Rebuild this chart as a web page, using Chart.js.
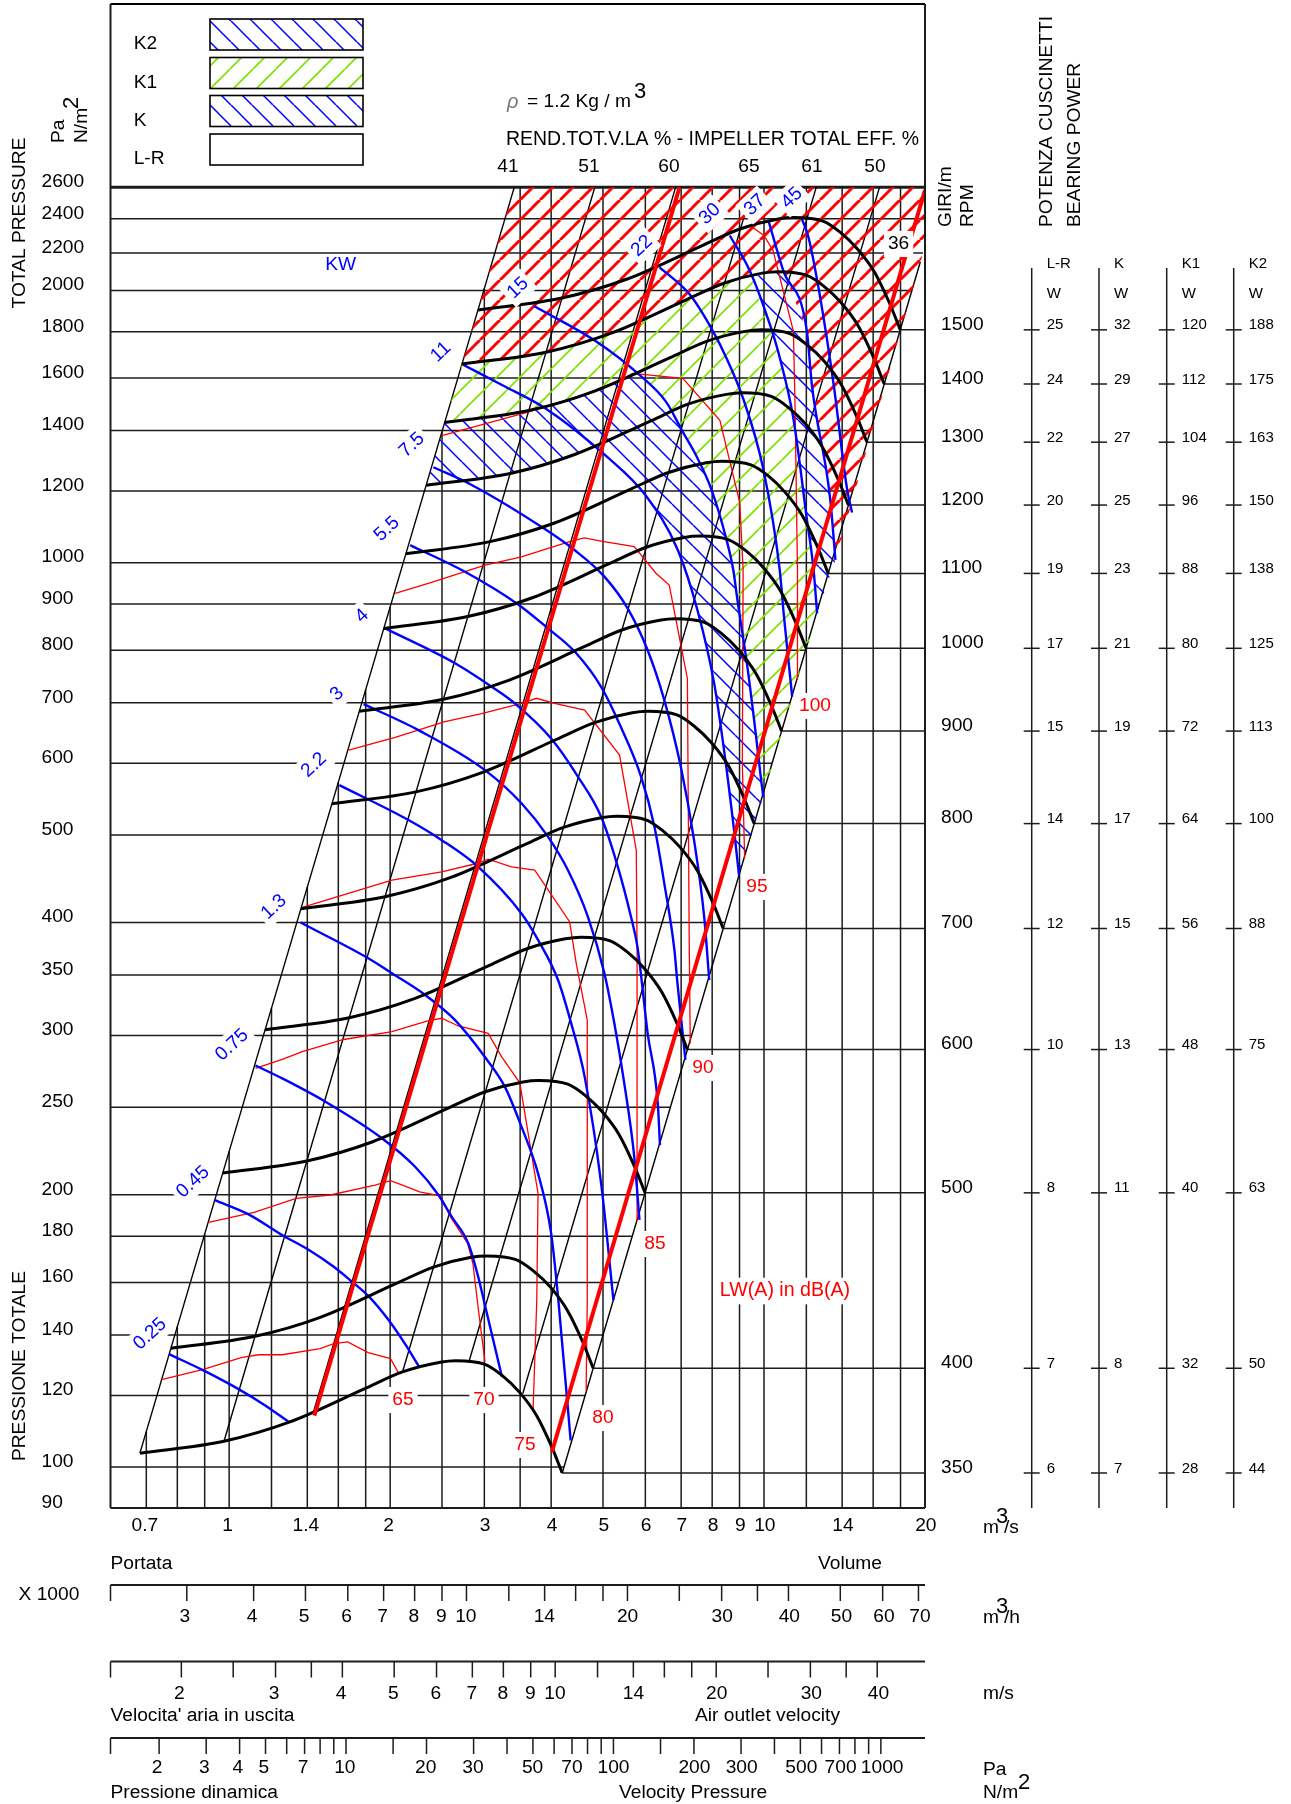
<!DOCTYPE html>
<html>
<head>
<meta charset="utf-8">
<title>Fan chart</title>
<script src="https://cdn.jsdelivr.net/npm/chart.js@4"></script>
<style>
    html, body { margin: 0; padding: 0; background: #fff; }
    canvas { display: block; }
</style>
</head>
<body>
<canvas id="fanChart" width="1291" height="1804"></canvas>
<script>
// fan speed curves, one pair per rpm (flow m3/s, total pressure Pa)
const rpm350x = [0.681, 0.978, 1.295, 1.793, 2.109, 2.481, 2.652, 3.008, 3.237, 3.486, 3.754, 4.012, 4.195];
const rpm350y = [103.6, 106.8, 112.1, 122.1, 127.4, 130.6, 131.1, 129.9, 126.3, 121.1, 114.1, 105.2, 98.5];
const rpm400x = [0.778, 1.118, 1.48, 2.049, 2.41, 2.835, 3.031, 3.438, 3.7, 3.984, 4.29, 4.585, 4.794];
const rpm400y = [135.3, 139.5, 146.4, 159.5, 166.4, 170.6, 171.2, 169.6, 164.9, 158.2, 149, 137.4, 128.6];
const rpm500x = [0.973, 1.397, 1.85, 2.561, 3.013, 3.544, 3.789, 4.297, 4.624, 4.98, 5.363, 5.731, 5.993];
const rpm500y = [211.4, 218, 228.8, 249.2, 260, 266.6, 267.6, 265.1, 257.8, 247.2, 232.9, 214.7, 201];
const rpm600x = [1.167, 1.677, 2.22, 3.074, 3.615, 4.253, 4.546, 5.157, 5.549, 5.976, 6.435, 6.878, 7.191];
const rpm600y = [304.5, 313.9, 329.5, 358.9, 374.4, 383.8, 385.3, 381.8, 371.2, 355.9, 335.3, 309.2, 289.5];
const rpm700x = [1.362, 1.956, 2.59, 3.586, 4.218, 4.962, 5.304, 6.016, 6.474, 6.972, 7.508, 8.024, 8.39];
const rpm700y = [414.4, 427.2, 448.4, 488.4, 509.6, 522.4, 524.4, 519.6, 505.2, 484.4, 456.4, 420.8, 394];
const rpm800x = [1.557, 2.235, 2.96, 4.098, 4.821, 5.671, 6.062, 6.875, 7.399, 7.968, 8.581, 9.17, 9.589];
const rpm800y = [541.2, 557.9, 585.6, 637.9, 665.5, 682.3, 684.9, 678.6, 659.8, 632.6, 596.1, 549.6, 514.6];
const rpm900x = [1.751, 2.515, 3.33, 4.611, 5.423, 6.38, 6.819, 7.735, 8.324, 8.964, 9.653, 10.316, 10.787];
const rpm900y = [685, 706.2, 741.2, 807.3, 842.4, 863.5, 866.8, 858.9, 835.1, 800.7, 754.4, 695.6, 651.3];
const rpm1000x = [1.946, 2.794, 3.7, 5.123, 6.026, 7.088, 7.577, 8.594, 9.249, 9.96, 10.726, 11.463, 11.986];
const rpm1000y = [845.7, 871.8, 915.1, 996.7, 1040, 1066, 1070, 1060, 1031, 988.5, 931.4, 858.8, 804.1];
const rpm1100x = [2.14, 3.074, 4.07, 5.635, 6.628, 7.797, 8.335, 9.454, 10.174, 10.956, 11.798, 12.609, 13.184];
const rpm1100y = [1023, 1055, 1107, 1206, 1258, 1290, 1295, 1283, 1248, 1196, 1127, 1039, 973];
const rpm1200x = [2.335, 3.353, 4.44, 6.147, 7.231, 8.506, 9.093, 10.313, 11.098, 11.952, 12.871, 13.755, 14.383];
const rpm1200y = [1218, 1255, 1318, 1435, 1498, 1535, 1541, 1527, 1485, 1424, 1341, 1237, 1158];
const rpm1300x = [2.529, 3.633, 4.81, 6.66, 7.833, 9.215, 9.85, 11.173, 12.023, 12.948, 13.944, 14.902, 15.581];
const rpm1300y = [1429, 1473, 1547, 1684, 1758, 1802, 1809, 1792, 1742, 1671, 1574, 1451, 1359];
const rpm1400x = [2.724, 3.912, 5.18, 7.172, 8.436, 9.924, 10.608, 12.032, 12.948, 13.944, 15.016, 16.048, 16.78];
const rpm1400y = [1658, 1709, 1794, 1954, 2038, 2090, 2098, 2078, 2021, 1938, 1826, 1683, 1576];
const rpm1500x = [2.919, 4.191, 5.55, 7.684, 9.039, 10.633, 11.366, 12.891, 13.873, 14.94, 16.088, 17.194, 17.979];
const rpm1500y = [1903, 1962, 2059, 2243, 2340, 2399, 2408, 2386, 2320, 2224, 2096, 1932, 1809];

// motor power curves (kW)
const kw025x = [0.772, 0.895, 1.045, 1.168, 1.295];
const kw025y = [133.3, 127.9, 121.8, 117, 112.1];
const kw045x = [0.94, 1.085, 1.267, 1.405, 1.569, 1.69, 1.82, 1.988, 2.141, 2.27];
const kw045y = [197.3, 190.4, 180, 174, 166.5, 160.6, 154.6, 145.3, 136.3, 128.8];
const kw075x = [1.12, 1.257, 1.514, 1.93, 2.227, 2.462, 2.606, 2.8, 2.922, 3.008, 3.237];
const kw075y = [278, 269, 253.5, 231, 214.8, 199.9, 189.2, 176.7, 162.3, 151, 125.8];
const kw13x = [1.36, 1.823, 2.015, 2.325, 2.645, 3.008, 3.276, 3.52, 3.78, 4.0, 4.12, 4.35];
const kw13y = [400, 365, 351.6, 332.7, 312, 284, 263.4, 237.9, 211.2, 181.3, 154.3, 107];
const kw22x = [1.607, 2.164, 2.497, 2.922, 3.52, 3.78, 4.12, 4.36, 4.62, 4.96, 5.23];
const kw22y = [567.6, 519.3, 493.4, 461, 409.4, 382.7, 345.6, 309.5, 270.2, 205.9, 152.9];
const kw3x = [1.784, 2.259, 3.008, 3.52, 3.945, 4.3, 4.686, 5.03, 5.25, 5.48, 5.72, 5.85];
const kw3y = [697.6, 652.9, 589.7, 541.9, 497.8, 457, 405.9, 351.6, 309.5, 265.6, 220.4, 187.6];
const kw4x = [1.958, 2.645, 3.095, 3.42, 4.0, 4.488, 4.96, 5.33, 5.64, 5.8, 6.06, 6.33, 6.39];
const kw4y = [846, 774, 729.1, 698.9, 639, 580, 523.6, 461, 405.9, 376, 301.7, 252.5, 227];
const kw55x = [2.18, 2.76, 3.47, 3.945, 4.43, 4.96, 5.4, 5.89, 6.24, 6.51, 6.8, 6.89, 7.13];
const kw55y = [1045.7, 977, 899, 846, 797, 729, 658, 580, 510.5, 441.9, 373, 342.7, 282];
const kw75x = [2.409, 2.824, 3.905, 4.43, 5.03, 5.56, 6.06, 6.51, 6.99, 7.4, 7.73, 7.9];
const kw75y = [1275, 1221, 1088, 1032, 965, 890, 800, 704.7, 594.7, 493.4, 405.9, 345.6];
const kw11x = [2.744, 3.237, 3.905, 5.06, 6.02, 6.9, 7.51, 8.07, 8.42, 8.79, 8.98];
const kw11y = [1654, 1572, 1481, 1313, 1185, 1033, 886, 735.4, 620.4, 506.2, 451.2];
const kw15x = [3.714, 4.85, 5.85, 6.56, 7.05, 7.47, 7.97, 8.51, 8.76, 8.92, 9.31, 9.65, 9.86, 9.97];
const kw15y = [1922, 1757, 1613, 1506, 1395, 1313, 1206, 1060, 982, 909, 767, 647.6, 580, 551];
const kw22bx = [6.38, 7.26, 8.03, 8.51, 9.14, 9.97, 10.7, 10.9, 11.29];
const kw22by = [2121, 1980, 1802, 1683, 1519, 1269, 982, 871, 710.8];
const kw30x = [8.63, 9.41, 10.26, 10.71, 11.35, 12.03, 12.38, 12.57];
const kw30y = [2300, 2102, 1833, 1683, 1443, 1116, 982, 879];
const kw37x = [10.19, 10.87, 12.03, 12.29, 13.3, 13.6];
const kw37y = [2390, 2102, 1802, 1572, 1175, 1007];
const kw45x = [11.77, 12.11, 12.74, 13.5, 14.3, 14.61];
const kw45y = [2400, 2290, 1963, 1572, 1206, 1136];

// sound level curves LW(A), thin red
const lw65x = [0.7474, 0.895, 1.053, 1.134, 1.257, 1.479, 1.569, 1.665, 1.82, 2.003, 2.072];
const lw65y = [124.9, 128.2, 132.1, 133.1, 133.1, 135.2, 136.9, 137.5, 133.8, 131.8, 127.2];
const lw70x = [0.915, 1.117, 1.334, 1.546, 1.874, 2.003, 2.109, 2.27, 2.481, 2.594, 2.793, 2.856, 2.92, 3.008];
const lw70y = [186.4, 191.4, 198.2, 199.9, 205, 207.3, 205, 201.5, 199.5, 189, 176.6, 167.9, 150.4, 130.7];
const lw75x = [1.12, 1.257, 1.37, 1.637, 2.015, 2.359, 2.497, 2.682, 3.05, 3.23, 3.495, 3.78, 3.76, 3.7];
const lw75y = [276, 282.4, 288, 297, 303, 311.7, 313.5, 307.4, 301.7, 284.3, 266, 200.8, 153, 115.5];
const lw80x = [1.37, 2.015, 2.497, 2.902, 3.05, 3.372, 3.727, 4.33, 4.456, 4.673, 4.673, 4.65];
const lw80y = [415.7, 445.7, 455.2, 464.9, 470, 461, 457.1, 400.9, 360.6, 312, 153, 121.6];
const lw85x = [1.673, 2.044, 2.533, 2.965, 3.52, 3.754, 4.06, 4.62, 5.37, 5.77, 5.79, 5.79];
const lw85y = [620.6, 641, 667, 681, 699, 708, 699, 687, 612.8, 481, 373, 187];
const lw90x = [2.044, 2.39, 3.008, 3.52, 4.3, 4.61, 4.99, 5.72, 6.28, 6.65, 7.19, 7.25, 7.28];
const lw90y = [924.7, 950.8, 993.7, 1015, 1054, 1065, 1056, 1042, 973.6, 944.6, 744.7, 373, 294];
const lw95x = [2.498, 3.634, 4.58, 5.4, 5.68, 7.05, 8.27, 9.01, 9.14, 9.11, 9.2];
const lw95y = [1382, 1468, 1532, 1592, 1619.5, 1599, 1437, 1165, 982, 600, 471];
const lw100x = [9.41, 10, 10.4, 11.35, 11.43, 11.55, 11.55];
const lw100y = [2359, 2300, 2213, 1802, 1493, 982, 742];

// thick red limit lines
const limitAx = [1.443, 6.95];
const limitAy = [114, 2600];
const limitBx = [4.012, 20];
const limitBy = [103.9, 2582];

// thin parabolas, efficiency lines
const slantBottomX = [0.681, 0.978, 1.436, 2.109, 2.81, 3.54, 4.195];
const slantBottomY = [103.6, 106.8, 114.8, 127.4, 131, 120.6, 98.5];
const slantTopX = [3.412, 4.826, 6.834, 9.528, 12.52, 16.44, 19.6];
const slantTopY = [2600, 2600, 2600, 2600, 2600, 2600, 2150];

// hatched zones, outlines in flow/pressure
const zoneK2x = [2.724, 3.412, 20, 20, 13.6, 13.3, 12.29, 12.03, 10.87, 9.924, 8.436, 7.172, 5.18, 3.912, 2.724];
const zoneK2y = [1658, 2600, 2600, 2239, 1007, 1175, 1572, 1802, 2102, 2090, 2038, 1954, 1794, 1709, 1658];
const zoneK1x = [2.529, 2.724, 3.912, 5.18, 7.172, 8.436, 9.5, 10.26, 10.71, 11.35, 12.03, 12.38, 12.57, 9.97, 9.86, 9.65, 9.31, 8.92, 8.76, 8.51, 7.97, 7.47, 7.05, 6.56, 5.85, 4.81, 3.633, 2.529];
const zoneK1y = [1429, 1658, 1709, 1794, 1954, 2038, 2072, 1833, 1683, 1443, 1116, 982, 879, 551, 580, 647.6, 767, 909, 982, 1060, 1206, 1313, 1395, 1506, 1618, 1547, 1473, 1429];
const zoneKx = [2.335, 2.529, 3.633, 4.81, 5.85, 6.56, 7.05, 7.47, 7.97, 8.51, 8.76, 8.92, 9.31, 9.65, 9.86, 9.97, 8.98, 8.79, 8.42, 8.07, 7.51, 6.9, 6.02, 4.78, 4.44, 3.353, 2.335];
const zoneKy = [1218, 1429, 1473, 1547, 1618, 1506, 1395, 1313, 1206, 1060, 982, 909, 767, 647.6, 580, 551, 451.2, 506.2, 620.4, 735.4, 886, 1033, 1185, 1352, 1318, 1255, 1218];
const zoneK3x = [9.5, 10.608, 10.87, 12.03, 12.29, 13.3, 13.6, 12.57, 12.38, 12.03, 11.35, 10.71, 10.26, 9.5];
const zoneK3y = [2072, 2098, 2102, 1802, 1572, 1175, 1007, 879, 982, 1116, 1443, 1683, 1833, 2072];

// grid
const vGridX = [0.7, 0.8, 0.9, 1, 1.2, 1.4, 1.6, 1.8, 2, 2.5, 3, 3.5, 4, 5, 6, 7, 8, 9, 10, 12, 14, 16, 18, 20];
const vGridTop = [109.5, 143, 181, 223.4, 321.7, 437.9, 572, 724, 893.6, 1396, 2011, 2600, 2600, 2600, 2600, 2600, 2600, 2600, 2600, 2600, 2600, 2600, 2600, 2600];
const hGridY = [2600, 2400, 2200, 2000, 1800, 1600, 1400, 1200, 1000, 900, 800, 700, 600, 500, 400, 350, 300, 250, 200, 180, 160, 140, 120, 100];
const hGridEnd = [20, 20, 19.83, 18.9, 17.93, 16.91, 15.82, 14.64, 13.37, 12.68, 11.95, 11.18, 10.35, 9.452, 8.454, 7.908, 7.32, 6.683, 5.977, 5.671, 5.346, 5, 4.63, 4.227];

// right side, speeds and bearing power
const rpmLabels = [350, 400, 500, 600, 700, 800, 900, 1000, 1100, 1200, 1300, 1400, 1500];
const rpmLineY = [98.5, 128.6, 201, 289.5, 394, 514.6, 651.3, 804.1, 973, 1158, 1359, 1576, 1809];
const rpmLineX = [4.195, 4.794, 5.993, 7.191, 8.39, 9.589, 10.787, 11.986, 13.184, 14.383, 15.581, 16.78, 17.979];
const bearingLR = [6, 7, 8, 10, 12, 14, 15, 17, 19, 20, 22, 24, 25];
const bearingK = [7, 8, 11, 13, 15, 17, 19, 21, 23, 25, 27, 29, 32];
const bearingK1 = [28, 32, 40, 48, 56, 64, 72, 80, 88, 96, 104, 112, 120];
const bearingK2 = [44, 50, 63, 75, 88, 100, 113, 125, 138, 150, 163, 175, 188];

// axis labels
const yLabels = [2600, 2400, 2200, 2000, 1800, 1600, 1400, 1200, 1000, 900, 800, 700, 600, 500, 400, 350, 300, 250, 200, 180, 160, 140, 120, 100, 90];
const flowLabels = [0.7, 1, 1.4, 2, 3, 4, 5, 6, 7, 8, 9, 10, 14, 20];
const hourTicks = [3, 4, 5, 6, 7, 8, 9, 10, 12, 14, 16, 18, 20, 25, 30, 35, 40, 50, 60, 70];
const hourLabels = [3, 4, 5, 6, 7, 8, 9, 10, 14, 20, 30, 40, 50, 60, 70];
const speedTicks = [2, 2.5, 3, 3.5, 4, 5, 6, 7, 8, 9, 10, 12, 14, 16, 18, 20, 25, 30, 35, 40];
const speedLabels = [2, 3, 4, 5, 6, 7, 8, 9, 10, 14, 20, 30, 40];
const dynTicks = [2, 3, 4, 5, 6, 7, 8, 9, 10, 15, 20, 30, 40, 50, 60, 70, 80, 90, 100, 150, 200, 300, 400, 500, 600, 700, 800, 900, 1000];
const dynLabels = [2, 3, 4, 5, 7, 10, 20, 30, 50, 70, 100, 200, 300, 500, 700, 1000];

const BLACK = '#000000', BLUE = '#0000ff', RED = '#ff0000', GREEN = '#80e000', GRID = '#1c1c1c';
const FONT = '"Liberation Sans", Arial, sans-serif';
const TEXT = 19.2;

const makeHatch = (color, rising, width, size) => {
    const tile = document.createElement('canvas');
    tile.width = size;
    tile.height = size;
    const c = tile.getContext('2d');
    c.strokeStyle = color;
    c.lineWidth = width;
    if (!rising) {
        c.translate(size, 0);
        c.scale(-1, 1);
    }
    [[-size, size], [0, size], [size, size]].forEach(([x, y]) => {
        c.beginPath();
        c.moveTo(x, y);
        c.lineTo(x + size, y - size);
        c.stroke();
    });
    return c.createPattern(tile, 'repeat');
};

const pts = (xs, ys) => xs.map((x, i) => ({x, y: ys[i]}));

const line = (xs, ys, color, width, order, smooth = false) => ({
    data: pts(xs, ys),
    showLine: true,
    borderColor: color,
    borderWidth: width,
    pointRadius: 0,
    fill: false,
    cubicInterpolationMode: smooth ? 'monotone' : 'default',
    order,
});

const zone = (xs, ys, pattern) => ({
    data: pts(xs, ys),
    showLine: true,
    borderWidth: 0,
    borderColor: 'rgba(0,0,0,0)',
    backgroundColor: pattern,
    pointRadius: 0,
    fill: 'shape',
    order: 50,
});

const ctx = document.getElementById('fanChart').getContext('2d');
const hatchRed = makeHatch(RED, true, 3, 20);
const hatchGreen = makeHatch(GREEN, true, 1.7, 23);
const hatchBlue = makeHatch(BLUE, false, 1.5, 21);

const datasets = [
    zone(zoneK2x, zoneK2y, hatchRed),
    zone(zoneK1x, zoneK1y, hatchGreen),
    zone(zoneKx, zoneKy, hatchBlue),
    zone(zoneK3x, zoneK3y, hatchBlue),
];
vGridX.forEach((x, i) => datasets.push(line([x, x], [89, vGridTop[i]], GRID, 1.5, 60)));
hGridY.forEach((y, i) => datasets.push(line([0.6, hGridEnd[i]], [y, y], GRID, y === 2600 ? 3 : 1.5, 60)));
rpmLineY.forEach((y, i) => datasets.push(line([rpmLineX[i], 21], [y, y], GRID, 1.5, 60)));
slantBottomX.forEach((x, i) => datasets.push(line([x, slantTopX[i]], [slantBottomY[i], slantTopY[i]], BLACK, 1.4, 55)));
[[lw65x, lw65y], [lw70x, lw70y], [lw75x, lw75y], [lw80x, lw80y], [lw85x, lw85y], [lw90x, lw90y], [lw95x, lw95y], [lw100x, lw100y]]
    .forEach(([xs, ys]) => datasets.push(line(xs, ys, RED, 1.3, 30)));
[[kw025x, kw025y], [kw045x, kw045y], [kw075x, kw075y], [kw13x, kw13y], [kw22x, kw22y], [kw3x, kw3y], [kw4x, kw4y], [kw55x, kw55y],
    [kw75x, kw75y], [kw11x, kw11y], [kw15x, kw15y], [kw22bx, kw22by], [kw30x, kw30y], [kw37x, kw37y], [kw45x, kw45y]]
    .forEach(([xs, ys]) => datasets.push(line(xs, ys, BLUE, 2.4, 20, true)));
[[rpm350x, rpm350y], [rpm400x, rpm400y], [rpm500x, rpm500y], [rpm600x, rpm600y], [rpm700x, rpm700y], [rpm800x, rpm800y], [rpm900x, rpm900y],
    [rpm1000x, rpm1000y], [rpm1100x, rpm1100y], [rpm1200x, rpm1200y], [rpm1300x, rpm1300y], [rpm1400x, rpm1400y], [rpm1500x, rpm1500y]]
    .forEach(([xs, ys]) => datasets.push(line(xs, ys, BLACK, 3, 10, true)));
datasets.push(line(limitAx, limitAy, RED, 4, 5));
datasets.push(line(limitBx, limitBy, RED, 4, 5));

// helpers for the text around the plot
const put = (c, text, x, y, size = TEXT, color = BLACK, align = 'left') => {
    c.font = `${size}px ${FONT}`;
    c.fillStyle = color;
    c.textAlign = align;
    c.textBaseline = 'middle';
    c.fillText(text, x, y);
};

const putTurned = (c, text, x, y, size = TEXT, color = BLACK, align = 'left') => {
    c.save();
    c.translate(x, y);
    c.rotate(-Math.PI / 2);
    put(c, text, 0, 0, size, color, align);
    c.restore();
};

const boxed = (c, text, x, y, size, color, angle = 0) => {
    c.save();
    c.translate(x, y);
    c.rotate(angle);
    c.font = `${size}px ${FONT}`;
    const w = c.measureText(text).width + 8;
    c.fillStyle = '#fff';
    c.fillRect(-w / 2, -size * 0.68, w, size * 1.36);
    put(c, text, 0, 0, size, color, 'center');
    c.restore();
};

const stroke = (c, x1, y1, x2, y2, width = 1.5, color = GRID) => {
    c.strokeStyle = color;
    c.lineWidth = width;
    c.beginPath();
    c.moveTo(x1, y1);
    c.lineTo(x2, y2);
    c.stroke();
};

const kwLabels = [['0.25', 150, 1334], ['0.45', 193, 1182], ['0.75', 232, 1045], ['1.3', 274, 907], ['2.2', 314, 765], ['3', 337, 694], ['4', 362, 616],
    ['5.5', 387, 529], ['7.5', 412, 445], ['11', 441, 352], ['15', 518, 288], ['22', 642, 246], ['30', 710, 214], ['37', 755, 205], ['45', 792, 198]];
const dbLabels = [['65', 403, 1400], ['70', 484, 1400], ['75', 525, 1445], ['80', 603, 1418], ['85', 655, 1244], ['90', 703, 1068], ['95', 757, 887], ['100', 815, 706]];
const effLabels = [['41', 508], ['51', 589], ['60', 669], ['65', 749], ['61', 812], ['50', 875]];
const legendRows = [['K2', 19, hatchBlue], ['K1', 57.5, hatchGreen], ['K', 95.5, hatchBlue], ['L-R', 134, null]];
const bearingCols = [['L-R', 1031.7, bearingLR], ['K', 1099, bearingK], ['K1', 1166.7, bearingK1], ['K2', 1233.7, bearingK2]];

const annotations = {
    id: 'annotations',
    afterDatasetsDraw(chart) {
        const c = chart.ctx;
        const {left, right, top, bottom} = chart.chartArea;
        const xs = chart.scales.x;
        const ys = chart.scales.y;
        c.save();

        stroke(c, left, top, right, top, 2, BLACK);
        stroke(c, left, bottom, right, bottom, 2, GRID);
        stroke(c, left, top, left, bottom, 2, GRID);
        stroke(c, right, top, right, bottom, 2, GRID);

        kwLabels.forEach(([t, x, y]) => boxed(c, t, x, y, TEXT, BLUE, -0.75));
        dbLabels.forEach(([t, x, y]) => boxed(c, t, x, y, TEXT, RED));
        boxed(c, 'LW(A) in dB(A)', 785, 1291, 19.6, RED);
        boxed(c, '36', 898.6, 244, TEXT, BLACK);
        put(c, 'KW', 340.6, 264.6, TEXT, BLUE, 'center');

        // left axis and titles
        yLabels.forEach(v => put(c, String(v), 41.5, ys.getPixelForValue(v) - 5.5));
        putTurned(c, 'TOTAL PRESSURE', 19.5, 223, TEXT, BLACK, 'center');
        putTurned(c, 'PRESSIONE TOTALE', 19.5, 1366, TEXT, BLACK, 'center');
        putTurned(c, 'Pa', 58.5, 143);
        putTurned(c, 'N/m', 81.5, 143);
        putTurned(c, '2', 72, 109, 22);

        // legend block
        legendRows.forEach(([t, y, pattern]) => {
            if (pattern) {
                c.fillStyle = pattern;
                c.fillRect(210, y, 153, 31);
            }
            c.strokeStyle = BLACK;
            c.lineWidth = 1.6;
            c.strokeRect(210, y, 153, 31);
            put(c, t, 133.7, y + 25);
        });
        c.font = `italic 20px ${FONT}`;
        c.fillStyle = '#777777';
        c.textAlign = 'left';
        c.fillText('ρ', 507, 102);
        put(c, '= 1.2 Kg / m', 527, 102);
        put(c, '3', 634, 92, 22);
        put(c, 'REND.TOT.V.LA % - IMPELLER TOTAL EFF. %', 506, 140, 19.45);
        effLabels.forEach(([t, x]) => put(c, t, x, 166.5, TEXT, BLACK, 'center'));

        // speeds and bearing power on the right
        putTurned(c, 'GIRI/m', 946, 227);
        putTurned(c, 'RPM', 968, 227);
        putTurned(c, 'POTENZA CUSCINETTI', 1047, 227);
        putTurned(c, 'BEARING POWER', 1075, 227);
        rpmLabels.forEach((rpm, i) => put(c, String(rpm), 941, ys.getPixelForValue(rpmLineY[i]) - 5.5));
        bearingCols.forEach(([name, x, values]) => {
            stroke(c, x, 268, x, bottom);
            put(c, name, x + 15, 264, 15);
            put(c, 'W', x + 15, 294, 15);
            values.forEach((v, i) => {
                const y = ys.getPixelForValue(rpmLineY[i]);
                stroke(c, x - 8, y, x + 8, y);
                put(c, String(v), x + 15, y - 4.5, 15);
            });
        });

        // flow scales under the plot, all read through the x scale
        const flowAxis = (y, ticks, labels, toFlow, labelY) => {
            stroke(c, left, y, right, y, 2);
            stroke(c, left, y, left, y + 16);
            ticks.forEach(v => {
                const px = xs.getPixelForValue(toFlow(v));
                stroke(c, px, y, px, y + 16);
            });
            labels.forEach(v => {
                const px = xs.getPixelForValue(toFlow(v));
                put(c, String(v), px - 2.3 + 0.0047 * (px - left), labelY, TEXT, BLACK, 'center');
            });
        };
        flowLabels.forEach(v => put(c, String(v), xs.getPixelForValue(v) + (v < 3 ? -1.5 : 0.8), 1526, TEXT, BLACK, 'center'));
        flowAxis(1585, hourTicks, hourLabels, v => v / 3.6, 1617);
        flowAxis(1661.5, speedTicks, speedLabels, v => v * 0.407, 1694);
        flowAxis(1738, dynTicks, dynLabels, v => 0.523 * Math.sqrt(v), 1768);

        put(c, 'm', 983, 1528);
        put(c, '3', 996, 1517, 22);
        put(c, '/s', 1004, 1528);
        put(c, 'm', 983, 1618);
        put(c, '3', 996, 1607, 22);
        put(c, '/h', 1004, 1618);
        put(c, 'm/s', 983, 1694);
        put(c, 'Pa', 983, 1770);
        put(c, 'N/m', 983, 1793);
        put(c, '2', 1018, 1783, 22);
        put(c, 'Portata', 110.5, 1564);
        put(c, 'Volume', 818, 1564);
        put(c, 'X 1000', 18.5, 1595);
        put(c, "Velocita' aria in uscita", 110.5, 1716);
        put(c, 'Air outlet velocity', 695, 1716);
        put(c, 'Pressione dinamica', 110.5, 1793);
        put(c, 'Velocity Pressure', 619, 1793);
        c.restore();
    },
};

new Chart(ctx, {
    type: 'scatter',
    data: {datasets},
    options: {
        responsive: false,
        animation: false,
        layout: {padding: {left: 110.5, right: 366, top: 4, bottom: 296}},
        plugins: {legend: {display: false}, tooltip: {enabled: false}},
        scales: {
            x: {type: 'logarithmic', min: 0.6, max: 20, display: false},
            y: {type: 'logarithmic', min: 90.1, max: 4147, display: false},
        },
    },
    plugins: [annotations],
});
</script>
</body>
</html>
